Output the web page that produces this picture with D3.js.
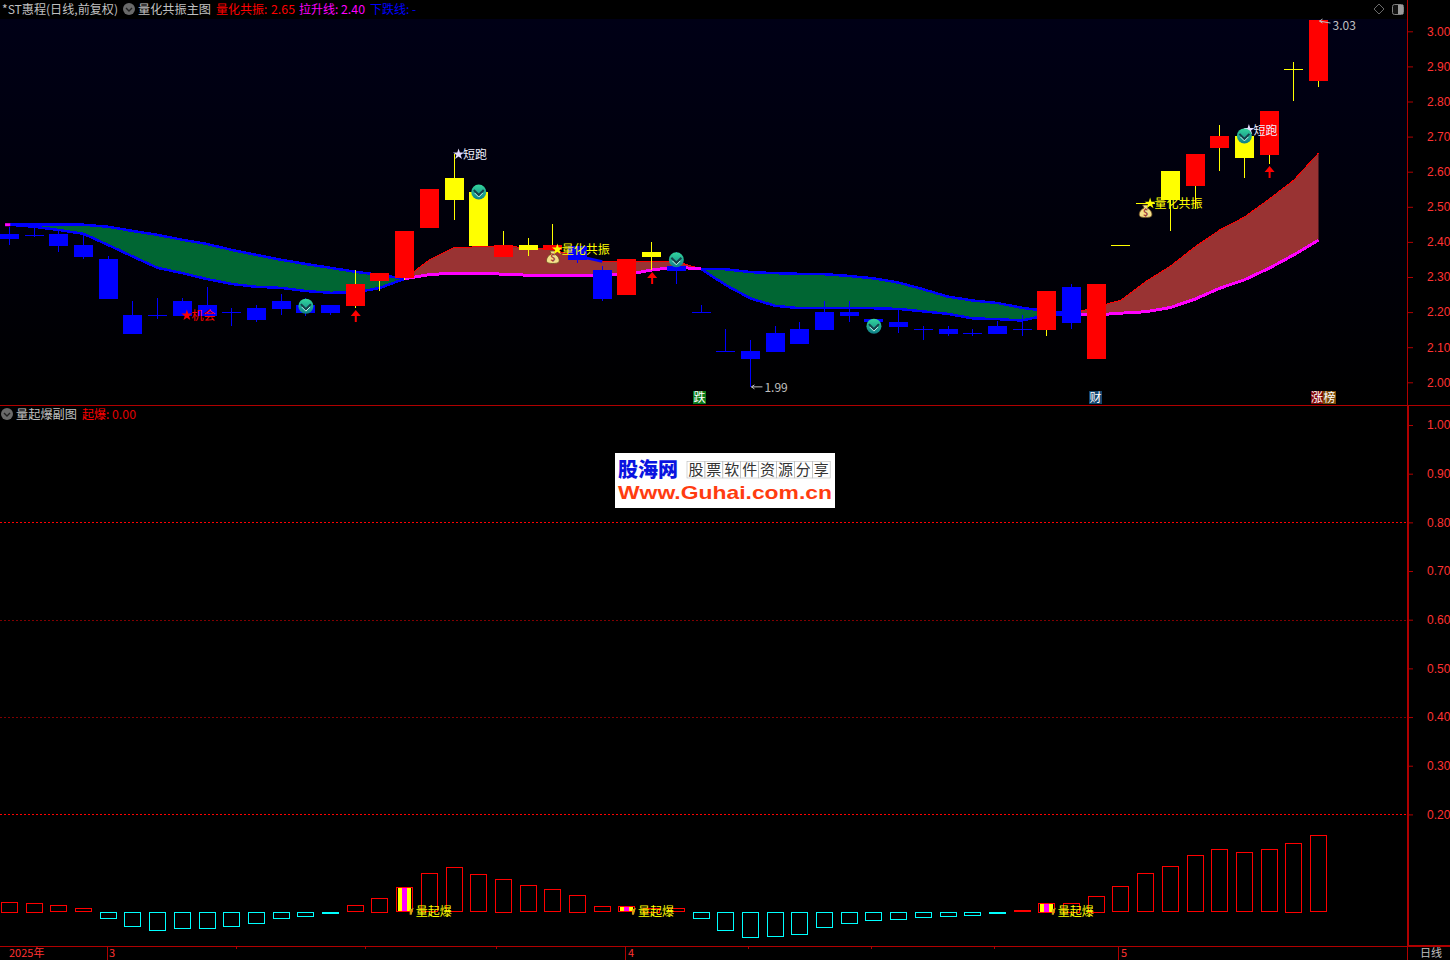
<!DOCTYPE html>
<html><head><meta charset="utf-8">
<style>html,body{margin:0;padding:0;background:#000;overflow:hidden}svg{display:block}
text{font-family:"Noto Sans CJK SC","Liberation Sans",sans-serif;font-size:12px}</style>
<script src="https://cdnjs.cloudflare.com/ajax/libs/d3/7.9.0/d3.min.js"></script></head><body><div id="c"></div>
<script>
// candle data (price units)
const bodyTop=[2.4225,2.421,2.423,2.391,2.351,2.192,2.191,2.232,2.220,2.199,2.212,2.232,2.220,2.220,2.280,2.311,2.431,2.551,2.582,2.542,2.391,2.391,2.391,2.388,2.320,2.351,2.371,2.331,2.199,2.088,2.089,2.141,2.152,2.200,2.200,2.180,2.172,2.152,2.152,2.140,2.160,2.152,2.260,2.272,2.280,2.390,2.511,2.602,2.650,2.702,2.702,2.773,2.892,3.032];
const bodyBot=[2.408,2.421,2.388,2.357,2.237,2.138,2.191,2.189,2.189,2.199,2.178,2.209,2.197,2.197,2.217,2.289,2.297,2.440,2.519,2.388,2.357,2.377,2.377,2.348,2.237,2.249,2.357,2.317,2.199,2.088,2.066,2.086,2.109,2.149,2.189,2.171,2.158,2.152,2.138,2.140,2.138,2.152,2.149,2.169,2.066,2.390,2.511,2.519,2.559,2.668,2.639,2.648,2.892,2.858];
const highs=[2.443,2.448,2.431,2.420,2.360,2.232,2.240,2.240,2.272,2.212,2.220,2.252,2.240,2.220,2.320,2.311,2.431,2.551,2.651,2.562,2.431,2.411,2.451,2.388,2.331,2.351,2.400,2.371,2.220,2.152,2.121,2.160,2.172,2.232,2.232,2.180,2.209,2.160,2.160,2.152,2.175,2.192,2.260,2.280,2.280,2.390,2.511,2.602,2.650,2.733,2.719,2.773,2.913,3.032];
const lows=[2.391,2.415,2.372,2.351,2.237,2.138,2.180,2.189,2.189,2.160,2.172,2.192,2.189,2.192,2.212,2.260,2.291,2.440,2.462,2.388,2.357,2.360,2.377,2.340,2.232,2.249,2.320,2.280,2.199,2.088,1.987,2.086,2.109,2.149,2.172,2.171,2.141,2.121,2.132,2.132,2.138,2.132,2.132,2.152,2.066,2.390,2.511,2.431,2.494,2.602,2.582,2.622,2.801,2.841];
const candleKind=["b","b","b","b","b","b","b","b","b","b","b","b","b","b","r","r","r","r","y","y","r","y","r","b","b","r","y","b","b","b","b","b","b","b","b","b","b","b","b","b","b","b","r","b","r","y","y","y","r","r","y","r","y","r"];

// ribbons (price units; start index given separately)
const green1Start=0;
const green1Top=[2.449,2.449,2.449,2.449,2.443,2.431,2.420,2.406,2.394,2.377,2.363,2.349,2.337,2.326,2.315,2.306,2.295];
const green1Bot=[2.449,2.443,2.434,2.423,2.391,2.358,2.326,2.311,2.294,2.280,2.272,2.269,2.260,2.255,2.256,2.269,2.295];
const red1Start=16;
const red1Top=[2.295,2.349,2.384,2.386,2.386,2.385,2.377,2.360,2.344,2.344,2.344,2.344,2.323];
const red1Bot=[2.295,2.307,2.311,2.311,2.308,2.305,2.305,2.305,2.305,2.307,2.320,2.328,2.323];
const green2Start=28;
const green2Top=[2.323,2.322,2.314,2.311,2.309,2.308,2.303,2.296,2.284,2.265,2.244,2.233,2.226,2.212,2.203,2.195];
const green2Bot=[2.323,2.277,2.239,2.218,2.211,2.211,2.211,2.211,2.209,2.202,2.195,2.182,2.180,2.176,2.192,2.195];
const red2Start=43;
const red2Top=[2.195,2.215,2.234,2.287,2.331,2.386,2.434,2.471,2.522,2.576,2.653];
const red2Bot=[2.195,2.192,2.197,2.201,2.213,2.237,2.268,2.292,2.325,2.363,2.405];
const fallSegStart=23;
const fallSeg=[2.360,2.344];

// lower panel
const burstValues=[0.021,0.019,0.013,0.007,-0.012,-0.029,-0.037,-0.033,-0.033,-0.029,-0.023,-0.012,-0.008,-0.001,0.013,0.028,0.050,0.079,0.091,0.077,0.067,0.054,0.046,0.034,0.011,0.011,0.008,0.007,-0.012,-0.037,-0.051,-0.049,-0.045,-0.031,-0.023,-0.016,-0.014,-0.010,-0.008,-0.006,-0.001,0.003,0.019,0.019,0.032,0.052,0.079,0.093,0.116,0.128,0.122,0.128,0.141,0.157];
const burstIdx=[16,25,42];

// axes
const priceTicks=[3.0,2.9,2.8,2.7,2.6,2.5,2.4,2.3,2.2,2.1,2.0];
const lowerTicks=[1.0,0.9,0.8,0.7,0.6,0.5,0.4,0.3,0.2];
const brightGrid=[0.8,0.2];
const dimGrid=[0.6,0.4];
const monthIdx=[3.95,24.96,44.92];
const monthLabels=["3","4","5"];
const minorIdx=[9.21,14.43,19.7,29.94,34.9,39.9];

// marks
const coinMarks=[[12,2.217],[19,2.542],[27,2.349],[35,2.160],[50,2.702]];
const bagMarks=[[22,2.357],[46,2.488]];
const arrowMarks=[[14,2.206],[26,2.314],[51,2.616]];
const runMarks=[[18,2.651],[50,2.721]];
const chanceMarks=[[7,2.192]];
const resonMarks=[[22,2.380],[46,2.511]];

const W=1450,H=960;
const svg=d3.select("#c").append("svg").attr("width",W).attr("height",H);
const defs=svg.append("defs");
const g0=defs.append("linearGradient").attr("id","bg").attr("x1",0).attr("x2",0).attr("y1",0).attr("y2",1);
g0.append("stop").attr("offset",0).attr("stop-color","#000016");
g0.append("stop").attr("offset",1).attr("stop-color","#000000");
const g1=defs.append("linearGradient").attr("id","coin").attr("x1",0).attr("x2",0).attr("y1",0).attr("y2",1);
g1.append("stop").attr("offset",0).attr("stop-color","#33d69c");
g1.append("stop").attr("offset",1).attr("stop-color","#0f7f88");

const x=d3.scaleLinear().domain([0,53]).range([9.5,1318.5]);
const y=d3.scaleLinear().domain([3,2]).range([31.3,382.3]);
const yl=d3.scaleLinear().domain([1,0.2]).range([425,814.4]);
const axisCol="#b00000",txtCol="#ff3232";

svg.append("rect").attr("width",W).attr("height",H).attr("fill","#000");
svg.append("rect").attr("x",0).attr("y",19).attr("width",1407).attr("height",386).attr("fill","url(#bg)");

// ribbons
function ribbon(start,top,bot,fill,topCol,topW,botCol,botW){
  const data=top.map((t,i)=>({i:i+start,t,b:bot[i]}));
  svg.append("path").datum(data).attr("fill",fill)
    .attr("d",d3.area().x(d=>x(d.i)).y0(d=>y(d.b)).y1(d=>y(d.t)));
  svg.append("path").datum(data).attr("fill","none").attr("stroke",topCol).attr("stroke-width",topW)
    .attr("shape-rendering","crispEdges").attr("d",d3.line().x(d=>x(d.i)).y(d=>y(d.t)));
  svg.append("path").datum(data).attr("fill","none").attr("stroke",botCol).attr("stroke-width",botW)
    .attr("shape-rendering","crispEdges").attr("d",d3.line().x(d=>x(d.i)).y(d=>y(d.b)));
}
ribbon(red1Start,red1Top,red1Bot,"#993333","#ff0000",1,"#ff00ff",3);
ribbon(red2Start,red2Top,red2Bot,"#993333","#ff0000",1,"#ff00ff",3);
ribbon(green1Start,green1Top,green1Bot,"#006633","#0000ff",2.5,"#0000ff",2.5);
ribbon(green2Start,green2Top,green2Bot,"#006633","#0000ff",2.5,"#0000ff",2.5);
svg.append("path").datum(fallSeg.map((v,i)=>({i:i+fallSegStart,v})))
  .attr("fill","none").attr("stroke","#0000ff").attr("stroke-width",2.5)
  .attr("d",d3.line().x(d=>x(d.i)).y(d=>y(d.v)));
svg.append("line").attr("x1",x(-0.18)).attr("x2",x(0.03)).attr("y1",y(green1Top[0])).attr("y2",y(green1Top[0]))
  .attr("stroke","#ff00ff").attr("stroke-width",3);

// candles
const colOf={b:"#0000ff",r:"#ff0000",y:"#ffff00"};
const wickOf={b:"#0000ff",r:"#ffff00",y:"#ffff00"};
const cg=svg.append("g").attr("shape-rendering","crispEdges");
const idx=d3.range(bodyTop.length);
cg.selectAll("line.w").data(idx).join("line").attr("class","w")
  .attr("x1",i=>x(i)).attr("x2",i=>x(i)).attr("y1",i=>y(highs[i])).attr("y2",i=>y(lows[i]))
  .attr("stroke",i=>wickOf[candleKind[i]]).attr("stroke-width",1);
cg.selectAll("rect.b").data(idx).join("rect").attr("class","b")
  .attr("x",i=>x(i)-9.5).attr("width",19)
  .attr("y",i=>y(bodyTop[i])).attr("height",i=>Math.max(1,y(bodyBot[i])-y(bodyTop[i])))
  .attr("fill",i=>colOf[candleKind[i]]);

// text marks
const star=d3.symbol().type(d3.symbolStar).size(38);
function labelled(marks,label,starCol,txtColor){
  marks.forEach(([i,p])=>{
    const X=x(i),Y=y(p);
    svg.append("path").attr("d",star).attr("transform",`translate(${X+4.5},${Y+0.5})`).attr("fill",starCol);
    svg.append("text").attr("x",X+9).attr("y",Y+5.5).attr("fill",txtColor).text(label);
  });
}
// money bags
bagMarks.forEach(([i,p])=>{
  const g=svg.append("g").attr("transform",`translate(${x(i)},${y(p)})`);
  g.append("path").attr("d","M-3,-6 L3,-6 L1.5,-3 C6,-1 7,3 6,5 C5,7 -5,7 -6,5 C-7,3 -6,-1 -1.5,-3 Z")
    .attr("fill","#f4e08a").attr("stroke","#6b4a20").attr("stroke-width",0.8);
  g.append("text").attr("x",0).attr("y",4.5).attr("text-anchor","middle").attr("fill","#9c3a3a")
    .attr("font-weight","bold").style("font-size","9px").text("$");
});
labelled(resonMarks,"量化共振","#ffff00","#ffff00");
labelled(runMarks,"短跑","#e4dcff","#f0f0ff");
labelled(chanceMarks,"机会","#ff0000","#ff0000");

// coins
coinMarks.forEach(([i,p])=>{
  const g=svg.append("g").attr("transform",`translate(${x(i)},${y(p)})`);
  g.append("circle").attr("r",7.5).attr("fill","url(#coin)");
  g.append("path").attr("d","M-5,-2 L0,3 L5,-2").attr("fill","none").attr("stroke","#15404a").attr("stroke-width",2);
  g.append("path").attr("d","M-4,1 L0,5 L4,1").attr("fill","none").attr("stroke","#c8f0e8").attr("stroke-width",1);
});
// arrows
arrowMarks.forEach(([i,p])=>{
  svg.append("path").attr("transform",`translate(${x(i)+0.5},${y(p)})`)
    .attr("d","M0,0 L5,6 L1,6 L1,12 L-1,12 L-1,6 L-5,6 Z").attr("fill","#ff0000");
});
// extremes
function extreme(i,p,label,dy0,dy1,ty){
  const X=x(i),Y=y(p);
  svg.append("path").attr("d",`M${X+12},${Y+dy1} L${X+1},${Y+dy0} M${X+4},${Y+dy0-2} L${X+1},${Y+dy0} L${X+4},${Y+dy0+2}`)
    .attr("fill","none").attr("stroke","#c0c0c0").attr("stroke-width",1);
  svg.append("text").attr("x",X+14).attr("y",Y+ty).attr("fill","#c0c0c0").text(label);
}
extreme(53,highs[53],d3.format(".2f")(highs[53]),1,3,9.5);
extreme(30,lows[30],d3.format(".2f")(lows[30]),0,0,5.5);

// badges
[["跌",693,13,"#0a7a1a"],["财",1089,13,"#14466e"],["涨",1311,12,"#800808"],["榜",1323,13,"#7a4a08"]].forEach(([t,bx,w,c])=>{
  svg.append("rect").attr("x",bx).attr("y",391).attr("width",w).attr("height",13).attr("fill",c);
  svg.append("text").attr("x",bx+w/2).attr("y",402).attr("text-anchor","middle").attr("fill","#fff").text(t);
});

// lower panel grid
const gridG=svg.append("g").attr("shape-rendering","crispEdges");
gridG.selectAll("line.bright").data(brightGrid).join("line").attr("class","bright")
  .attr("x1",0).attr("x2",1407).attr("y1",d=>Math.round(yl(d))+.5).attr("y2",d=>Math.round(yl(d))+.5)
  .attr("stroke","#ff0000").attr("stroke-dasharray","2,2");
gridG.selectAll("line.dim").data(dimGrid).join("line").attr("class","dim")
  .attr("x1",0).attr("x2",1407).attr("y1",d=>Math.round(yl(d))+.5).attr("y2",d=>Math.round(yl(d))+.5)
  .attr("stroke","#800000").attr("stroke-dasharray","2,2");

// watermark
const wm=svg.append("g");
wm.append("rect").attr("x",615).attr("y",453).attr("width",220).attr("height",55).attr("fill","#fff");
wm.append("text").attr("x",618).attr("y",477).attr("fill","#0a14e0").attr("font-weight","900").style("font-size","20px").text("股海网");
const wmChars="股票软件资源分享".split("");
wmChars.forEach((c,k)=>{
  wm.append("rect").attr("x",687+k*17.9).attr("y",461.5).attr("width",17.9).attr("height",16.5)
    .attr("fill","none").attr("stroke","#bbb").attr("stroke-width",.6);
  wm.append("text").attr("x",687+k*17.9+8.95).attr("y",475).attr("text-anchor","middle").attr("fill","#333")
    .style("font-size","15px").style("font-family",'"Noto Sans CJK SC"').text(c);
});
wm.append("text").attr("x",618).attr("y",499).attr("fill","#ff3c10").attr("font-weight","bold")
  .attr("textLength",214).attr("lengthAdjust","spacingAndGlyphs")
  .style("font-size","19px").style("font-family",'"Liberation Sans"').text("Www.Guhai.com.cn");

// bars
const b0=yl(0);
const bg=svg.append("g").attr("shape-rendering","crispEdges");
const bidx=d3.range(burstValues.length);
bg.selectAll("rect.s").data(bidx).join("rect").attr("class","s")
  .attr("x",i=>Math.round(x(i)-8.5)+.5).attr("width",16)
  .attr("y",i=>Math.round(Math.min(yl(burstValues[i]),b0))+.5)
  .attr("height",i=>Math.max(0.5,Math.round(Math.abs(yl(burstValues[i])-b0))))
  .attr("fill","none").attr("stroke",i=>burstValues[i]>=0?"#ff0000":"#00ffff").attr("stroke-width",1);
burstIdx.forEach(i=>{
  const X=x(i),T=yl(burstValues[i]);
  [[-6.5,4,"#ffff00"],[-2.5,5,"#ff00ff"],[2.5,4,"#ffff00"]].forEach(([dx,w,c])=>{
    bg.append("rect").attr("x",Math.round(X+dx)).attr("y",Math.round(T)+1).attr("width",w).attr("height",b0-T-1).attr("fill",c);
  });
  svg.append("path").attr("d",`M${X+5},${b0-2} L${X+9},${b0-4} L${X+8},${b0-1} L${X+7},${b0+3} L${X+5},${b0+3} Z`).attr("fill","#d4a010");
  svg.append("text").attr("x",X+11).attr("y",b0+4.5).attr("fill","#ffff00").text("量起爆");
});

// axes
const pa=svg.append("g").attr("transform","translate(1408,0)")
  .call(d3.axisRight(y).tickValues(priceTicks).tickFormat(d3.format(".2f")).tickSize(5).tickPadding(14));
const la=svg.append("g").attr("transform","translate(1408,0)")
  .call(d3.axisRight(yl).tickValues(lowerTicks).tickFormat(d3.format(".2f")).tickSize(5).tickPadding(14));
[pa,la].forEach(a=>{
  a.select(".domain").remove();
  a.selectAll("line").attr("stroke",axisCol);
  a.selectAll("text").attr("fill",txtCol).style("font-size","12px").style("font-family",'"Liberation Sans"');
  a.attr("font-family",null).attr("font-size",null);
});
const frame=svg.append("g").attr("stroke",axisCol).attr("shape-rendering","crispEdges");
frame.append("line").attr("x1",0).attr("x2",W).attr("y1",405.5).attr("y2",405.5);
frame.append("line").attr("x1",1407.5).attr("x2",1407.5).attr("y1",0).attr("y2",405);
frame.append("line").attr("x1",1408).attr("x2",1408).attr("y1",406).attr("y2",946).attr("stroke-width",2);
frame.append("line").attr("x1",1407.5).attr("x2",1407.5).attr("y1",946).attr("y2",960);
frame.append("line").attr("x1",0).attr("x2",W).attr("y1",946.5).attr("y2",946.5);
frame.append("line").attr("x1",1408).attr("x2",W).attr("y1",945.5).attr("y2",945.5);
frame.selectAll("line.m").data(monthIdx).join("line").attr("class","m")
  .attr("x1",d=>x(d)).attr("x2",d=>x(d)).attr("y1",947).attr("y2",960);
frame.selectAll("line.n").data(minorIdx).join("line").attr("class","n")
  .attr("x1",d=>x(d)).attr("x2",d=>x(d)).attr("y1",947).attr("y2",949);
monthIdx.forEach((d,k)=>svg.append("text").attr("x",x(d)+2).attr("y",957).attr("fill",txtCol).style("font-size","11px").text(monthLabels[k]));
svg.append("text").attr("x",9).attr("y",957).attr("fill",txtCol).style("font-size","11px").text("2025年");
svg.append("text").attr("x",1420).attr("y",957).attr("fill","#c0c0c0").style("font-size","11px").text("日线");

// header
function dot(cx,cy){
  svg.append("circle").attr("cx",cx).attr("cy",cy).attr("r",6).attr("fill","#6a6a6a");
  svg.append("path").attr("d",`M${cx-3},${cy-1} L${cx},${cy+2} L${cx+3},${cy-1}`).attr("fill","none").attr("stroke","#222").attr("stroke-width",1.4);
}
function head(t,X,Y,c,len){
  const e=svg.append("text").attr("x",X).attr("y",Y).attr("fill",c).text(t);
  if(len)e.attr("textLength",len).attr("lengthAdjust","spacingAndGlyphs");
}
head("*ST惠程(日线,前复权)",2,14,"#c0c0c0",116);
dot(129,9);
head("量化共振主图",138,14,"#c0c0c0",73);
head("量化共振:",216,14,"#ff0000");
head("2.65",271,14,"#ff0000",24);
head("拉升线:",299,14,"#ff00ff");
head("2.40",341,14,"#ff00ff",24);
head("下跌线:",370,14,"#0000ff");
head("-",412,14,"#0000ff");
dot(7,414);
head("量起爆副图",16,418.5,"#c0c0c0",61);
head("起爆:",82,418.5,"#ff0000");
head("0.00",112,418.5,"#e00000",24);
svg.append("path").attr("d","M1379,4 L1384,9 L1379,14 L1374,9 Z").attr("fill","none").attr("stroke","#6a6a6a");
svg.append("rect").attr("x",1392.5).attr("y",4.5).attr("width",11).attr("height",10).attr("rx",2).attr("fill","#111").attr("stroke","#808080");
svg.append("rect").attr("x",1398).attr("y",5).attr("width",5).attr("height",9).attr("fill","#9a9a9a");
</script></body></html>
